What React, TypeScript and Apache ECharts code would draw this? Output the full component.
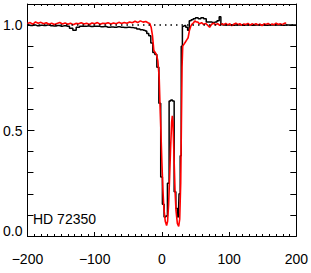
import React, { useEffect, useRef } from "react";
import * as echarts from "echarts";

const xTicks = [-200, -100, 0, 100, 200];
const yTicks = [0, 0.5, 1.0];
const starLabel = "HD 72350";

// Black spectrum (histogram steps): velocity (km/s) and normalised flux
const blackVel = [
  -200, -195, -190, -185, -180, -175, -170, -165, -160, -155, -150, -145, -140, -135, -130, -125,
  -120, -115, -110, -105, -100, -95, -90, -85, -80, -75, -70, -65, -60, -55, -50, -45, -40, -35,
  -30, -27, -24, -21, -18, -15, -12, -9, -6, -3, -0.5, 2, 4.5, 7, 9.5, 12, 14.5, 17, 19.5, 22,
  24.5, 26.5, 28, 29.5, 31.5, 34, 37, 39.5, 42, 45, 48, 52, 56, 60, 64, 68, 72, 76, 80, 84, 86.5,
  89, 92, 96, 100, 105, 110, 115, 120, 125, 130, 135, 140, 145, 150, 155, 160, 165, 170, 175, 180,
  185, 190, 195, 200,
];
const blackFlux = [
  1.0, 0.998, 1.0, 0.997, 0.999, 0.998, 1.0, 0.997, 0.996, 0.998, 0.995, 0.997, 0.994, 0.985, 0.975, 0.99,
  0.995, 0.994, 0.996, 0.993, 0.995, 0.994, 0.992, 0.993, 0.99, 0.991, 0.99, 0.992, 0.99, 0.989, 0.99, 0.988, 0.986, 0.982,
  0.978, 0.975, 0.972, 0.96, 0.95, 0.915, 0.87, 0.86, 0.8, 0.63, 0.28, 0.15, 0.09, 0.095, 0.25, 0.64, 0.645, 0.64, 0.21, 0.13,
  0.09, 0.2, 0.38, 0.9, 0.995, 0.998, 0.99, 0.975, 1.02, 1.025, 1.03, 1.035, 1.03, 1.035, 1.03, 1.015, 1.015, 1.012, 1.015, 1.02, 1.04,
  1.005, 1.0, 1.0, 1.001, 0.999, 1.0, 1.001, 0.999, 1.0, 1.0, 0.999, 1.0, 1.001, 1.0, 0.999, 1.0, 1.0, 1.001, 1.0, 0.999,
  1.0, 1.0, 1.0, 1.0,
];

// Red spectrum (smooth, noisy)
const redVel = [
  -200, -196, -192, -188, -184, -180, -176, -172, -168, -164, -160, -156, -152, -148, -144, -140,
  -136, -132, -128, -124, -120, -116, -112, -108, -104, -100, -96, -92, -88, -84, -80, -76, -72,
  -68, -64, -60, -56, -52, -48, -44, -40, -36, -32, -28, -24, -20, -18, -16, -14, -12, -10, -8,
  -6, -4, -3, -1.5, 0, 1.5, 3, 5, 7, 8.5, 10, 11.5, 13, 14.5, 15.5, 16.5, 18, 19.5, 21, 23, 25,
  26.5, 28, 29, 30, 31, 33, 35, 37, 39, 41, 43, 45, 47, 49, 51, 53, 56, 59, 62, 65, 68, 71, 74,
  77, 80, 83, 86, 89, 92, 95, 98, 101, 104, 107, 110, 113, 116, 119, 122, 125, 128, 131, 134, 137,
  140, 143, 146, 149, 152, 155, 158, 161, 164, 167, 170, 173, 176, 179, 182, 185,
];
const redFlux = [
  1.008, 1.012, 1.004, 1.015, 1.009, 1.013, 1.006, 1.011, 1.004, 1.009, 1.003, 1.008, 1.012, 1.005, 1.01, 1.004,
  1.009, 1.002, 1.008, 1.006, 1.011, 1.005, 1.009, 1.003, 1.01, 1.006, 1.012, 1.004, 1.009, 1.007, 1.011, 1.005, 1.01,
  1.006, 1.013, 1.008, 1.012, 1.009, 1.015, 1.011, 1.018, 1.012, 1.02, 1.014, 1.017, 1.01, 1.008, 0.99, 0.95, 0.88, 0.87, 0.86,
  0.83, 0.75, 0.64, 0.5, 0.35, 0.22, 0.13, 0.07, 0.05, 0.07, 0.15, 0.28, 0.42, 0.54, 0.57, 0.54, 0.38, 0.22, 0.12, 0.06, 0.045,
  0.08, 0.25, 0.52, 0.8, 0.9, 0.91, 0.92, 0.93, 0.94, 0.975, 0.995, 1.005, 1.01, 1.02, 1.015, 1.015, 1.006, 1.012, 1.003, 1.008, 1.0, 0.99, 1.004,
  1.009, 1.002, 1.007, 0.999, 1.006, 1.002, 1.008, 1.001, 1.006, 0.998, 1.004, 1.009, 1.002, 1.007, 0.999, 1.005, 1.003, 1.008, 1.0, 1.006, 1.002,
  1.007, 1.001, 1.005, 0.998, 1.006, 1.003, 1.008, 1.001, 1.005, 1.002, 1.009, 1.003, 1.006, 1.002, 1.008, 1.01,
];

const unityLevel = 1.0;

const FONT = "Liberation Sans, Arial, Helvetica, sans-serif";

const fmtX = (v: number) => (v < 0 ? "\u2212" + Math.abs(v) : String(v));

export default function App() {
  const ref = useRef<HTMLDivElement>(null);
  useEffect(() => {
    if (!ref.current) return;
    const chart = echarts.init(ref.current, undefined, { renderer: "svg" });
    const axisLine = { show: true, onZero: false, lineStyle: { color: "#000", width: 1 } };
    chart.setOption({
      animation: false,
      backgroundColor: "#fff",
      grid: { left: 27, right: 14, top: 4, bottom: 37, containLabel: false },
      xAxis: [
        {
          type: "value",
          position: "bottom",
          min: xTicks[0],
          max: xTicks[xTicks.length - 1],
          interval: 100,
          axisLine,
          axisTick: { show: true, inside: true, length: 4, lineStyle: { color: "#000" } },
          minorTick: { show: true, splitNumber: 10, length: 2, lineStyle: { color: "#000" } },
          splitLine: { show: false },
          axisLabel: {
            show: true,
            color: "#000",
            fontFamily: FONT,
            fontSize: 14,
            margin: 16,
            formatter: (v: number) => (xTicks.includes(v) ? fmtX(v) : ""),
          },
        },
        {
          type: "value",
          position: "top",
          min: xTicks[0],
          max: xTicks[xTicks.length - 1],
          interval: 100,
          axisLine,
          axisTick: { show: true, inside: true, length: 4, lineStyle: { color: "#000" } },
          minorTick: { show: true, splitNumber: 10, length: 2, lineStyle: { color: "#000" } },
          splitLine: { show: false },
          axisLabel: { show: false },
        },
      ],
      yAxis: [
        {
          type: "value",
          position: "left",
          min: 0,
          max: 1.1,
          interval: 0.5,
          axisLine,
          axisTick: { show: true, inside: true, length: 7, lineStyle: { color: "#000" } },
          minorTick: { show: true, splitNumber: 5, length: 6, lineStyle: { color: "#000" } },
          splitLine: { show: false },
          axisLabel: {
            show: true,
            color: "#000",
            fontFamily: FONT,
            fontSize: 14,
            margin: 5,
            showMaxLabel: false,
            formatter: (v: number) => {
              if (!yTicks.some((t) => Math.abs(t - v) < 1e-6)) return "";
              return v === 0 ? "{low|" + v.toFixed(1) + "}" : v.toFixed(1);
            },
            rich: {
              low: { fontFamily: FONT, fontSize: 14, color: "#000", padding: [0, 0, 11, 0] },
            },
          },
        },
        {
          type: "value",
          position: "right",
          min: 0,
          max: 1.1,
          interval: 0.5,
          axisLine,
          axisTick: { show: true, inside: true, length: 7, lineStyle: { color: "#000" } },
          minorTick: { show: true, splitNumber: 5, length: 6, lineStyle: { color: "#000" } },
          splitLine: { show: false },
          axisLabel: { show: false },
        },
      ],
      graphic: [
        {
          type: "text",
          left: 33,
          top: 212,
          style: { text: starLabel, fill: "#000", font: "14px " + FONT },
        },
      ],
      series: [
        {
          type: "line",
          name: "black",
          xAxisIndex: 0,
          yAxisIndex: 0,
          data: blackVel.map((v, i) => [v, blackFlux[i]]),
          step: "middle",
          showSymbol: false,
          symbol: "none",
          lineStyle: { color: "#000", width: 1.5 },
          z: 2,
          markLine: {
            silent: true,
            symbol: "none",
            label: { show: false },
            lineStyle: { color: "#000", type: [1.5, 4], width: 1.5 },
            data: [{ yAxis: unityLevel }],
          },
        },
        {
          type: "line",
          name: "red",
          xAxisIndex: 0,
          yAxisIndex: 0,
          data: redVel.map((v, i) => [v, redFlux[i]]),
          showSymbol: false,
          symbol: "none",
          lineStyle: { color: "#ff0000", width: 1.6 },
          z: 3,
        },
      ],
    });
    return () => chart.dispose();
  }, []);
  return (
    <div
      ref={ref}
      style={{ position: "fixed", left: 0, top: 0, width: 311, height: 273, background: "#fff" }}
    />
  );
}
